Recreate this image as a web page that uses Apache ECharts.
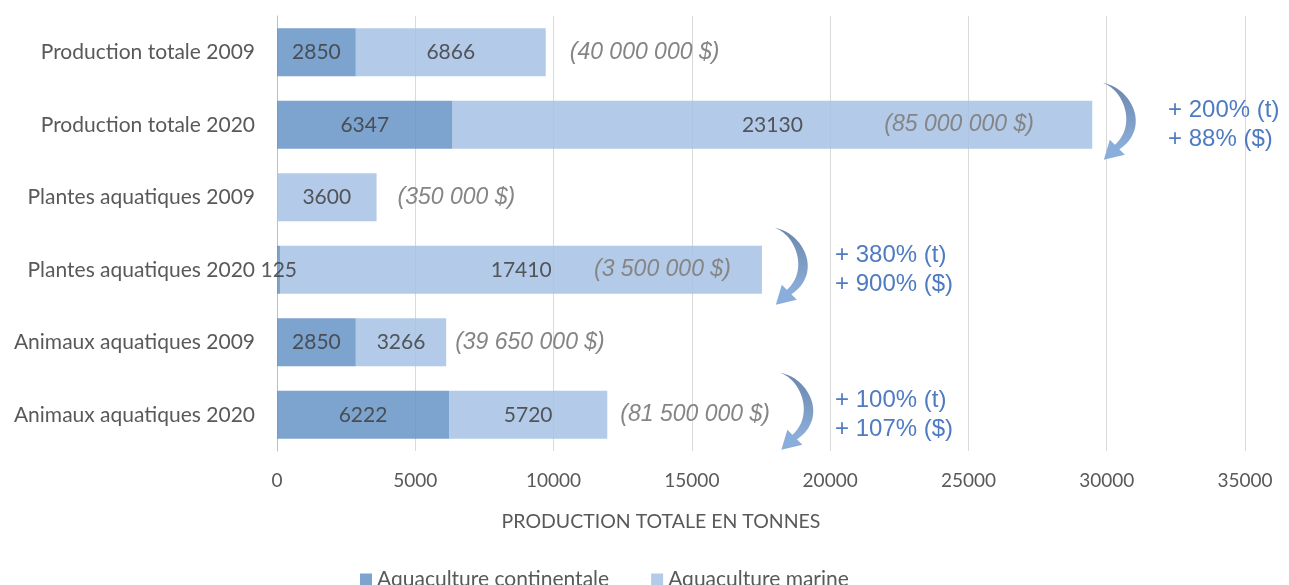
<!DOCTYPE html>
<html>
<head>
<meta charset="utf-8">
<script src="https://cdn.jsdelivr.net/npm/echarts@6/dist/echarts.min.js"></script>
<style>html,body{margin:0;padding:0;background:#fff}#c{width:1289px;height:585px}</style>
</head>
<body>
<div id="c"></div>
<script>
// ---- data ----
var categories = ['Production totale 2009', 'Production totale 2020', 'Plantes aquatiques 2009', 'Plantes aquatiques 2020', 'Animaux aquatiques 2009', 'Animaux aquatiques 2020'];
var continentale = [2850, 6347, 0, 125, 2850, 6222];
var marine = [6866, 23130, 3600, 17410, 3266, 5720];
var dollarLabels = ['(40 000 000 $)', '(85 000 000 $)', '(350 000 $)', '(3 500 000 $)', '(39 650 000 $)', '(81 500 000 $)'];
var changeRows = [1, 3, 5];
var changeTonnes = ['+ 200% (t)', '+ 380% (t)', '+ 100% (t)'];
var changeDollars = ['+ 88% ($)', '+ 900% ($)', '+ 107% ($)'];
var xTicks = [0, 5000, 10000, 15000, 20000, 25000, 30000, 35000];

// ---- styles (positions of annotations, not data) ----
var dollarOffsets = [24, -208, 21, -168, 9, 13];
var arrowAnchors = [29860, 18000, 18200];
var textAnchors = [32216, 20176, 20176];

var FONT = 'Lato, "Open Sans", sans-serif';
var chart = echarts.init(document.getElementById('c'));

var option = {
  backgroundColor: '#ffffff',
  animation: false,
  grid: { left: 277, right: 44, top: 16, bottom: 134, containLabel: false },
  legend: {
    data: ['Aquaculture continentale', 'Aquaculture marine'],
    left: 355, top: 564, itemWidth: 12, itemHeight: 12, itemGap: 42,
    icon: 'rect',
    textStyle: { fontFamily: FONT, fontSize: 21, color: '#595959' }
  },
  xAxis: {
    type: 'value', min: xTicks[0], max: xTicks[xTicks.length - 1], interval: xTicks[1] - xTicks[0],
    axisLine: { show: false }, axisTick: { show: false },
    splitLine: { lineStyle: { color: '#d9d9d9', width: 1 } },
    axisLabel: { color: '#595959', fontFamily: FONT, fontSize: 19, margin: 20,
      formatter: function (v) { return String(v); } },
    name: 'PRODUCTION TOTALE EN TONNES', nameLocation: 'middle', nameGap: 61,
    nameTextStyle: { color: '#595959', fontFamily: FONT, fontSize: 19.5, padding: [0, 200, 0, 0] }
  },
  yAxis: {
    type: 'category', data: categories, inverse: true,
    axisLine: { show: true, lineStyle: { color: '#bfbfbf' } },
    axisTick: { show: false },
    axisLabel: { color: '#595959', fontFamily: FONT, fontSize: 21, margin: 22 }
  },
  series: [
    {
      name: 'Aquaculture continentale', type: 'bar', stack: 'p', barWidth: 48,
      data: continentale,
      itemStyle: { color: '#6693c7', opacity: 0.85 },
      label: { show: true, position: 'inside', color: '#404040', fontFamily: FONT, fontSize: 21,
        formatter: function (p) { return p.value ? String(p.value) : ''; } }
    },
    {
      name: 'Aquaculture marine', type: 'bar', stack: 'p', barWidth: 48,
      data: marine,
      itemStyle: { color: '#a6c2e4', opacity: 0.85 },
      label: { show: true, position: 'inside', color: '#404040', fontFamily: FONT, fontSize: 21 }
    },
    {
      name: 'valeur', type: 'bar', stack: 'p', barWidth: 48,
      itemStyle: { color: 'transparent' },
      data: dollarLabels.map(function (t, i) {
        return { value: 0, label: { show: true, position: 'right', distance: 0, offset: [dollarOffsets[i], 0],
          formatter: t, color: '#858585', fontStyle: 'italic',
          fontFamily: '"Liberation Sans", Arial, sans-serif', fontSize: 23 } };
      }),
      silent: true
    }
  ]
};
chart.setOption(option);

// sample a cubic bezier into points (arrow shape only)
function cubic(p0, p1, p2, p3, n) {
  var pts = [];
  for (var k = 0; k <= n; k++) {
    var t = k / n, u = 1 - t;
    pts.push([
      u * u * u * p0[0] + 3 * u * u * t * p1[0] + 3 * u * t * t * p2[0] + t * t * t * p3[0],
      u * u * u * p0[1] + 3 * u * u * t * p1[1] + 3 * u * t * t * p2[1] + t * t * t * p3[1]
    ]);
  }
  return pts;
}
var crescent = cubic([0, 0], [30, 6], [48, 46], [16, 67], 30)
  .concat(cubic([11, 63], [34, 44], [22, 8], [0, 0], 30));

function arrowGroup(x, y) {
  var grad = { type: 'linear', x: 0, y: 0, x2: 0, y2: 1,
    colorStops: [{ offset: 0, color: '#6a86ac' }, { offset: 1, color: '#8db0db' }] };
  return {
    type: 'group', x: x, y: y, silent: true,
    children: [
      { type: 'polygon', shape: { points: crescent }, style: { fill: grad } },
      { type: 'polygon', shape: { points: [[7, 57], [22, 72], [1, 77]] }, style: { fill: '#8aaedb' } }
    ]
  };
}

var g = [];
changeRows.forEach(function (row, i) {
  var a = chart.convertToPixel({ gridIndex: 0 }, [arrowAnchors[i], row]);
  var t = chart.convertToPixel({ gridIndex: 0 }, [textAnchors[i], row]);
  g.push(arrowGroup(a[0], a[1] - 42));
  g.push({ type: 'text', x: t[0], y: t[1] - 14, silent: true,
    style: { text: changeTonnes[i], fill: '#4f7bc0', font: '24px "Liberation Sans", Arial, sans-serif', verticalAlign: 'middle' } });
  g.push({ type: 'text', x: t[0], y: t[1] + 15, silent: true,
    style: { text: changeDollars[i], fill: '#4f7bc0', font: '24px "Liberation Sans", Arial, sans-serif', verticalAlign: 'middle' } });
});
chart.setOption({ graphic: g });
</script>
</body>
</html>
